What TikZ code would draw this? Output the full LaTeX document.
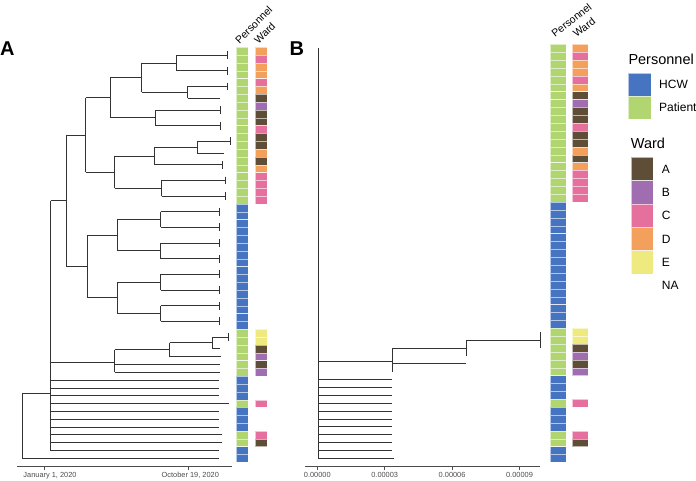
\documentclass[tikz,border=0pt]{standalone}
\usepackage{fontspec}
\setmainfont{Liberation Sans}
\usepackage{xcolor}
\usepackage{tikz}
\usetikzlibrary{calc, positioning}

\definecolor{hcwblue}{HTML}{4674C1}
\definecolor{patgreen}{HTML}{B1D571}
\definecolor{wardA}{HTML}{5F4E37}
\definecolor{wardB}{HTML}{A06DB1}
\definecolor{wardC}{HTML}{E5709E}
\definecolor{wardD}{HTML}{F4A05D}
\definecolor{wardE}{HTML}{EFEA7F}

\tikzset{
    branch/.style={line width=0.8pt, black!80},
    cell/.style={draw=white, draw opacity=0.6, line width=0.3pt},
    axisline/.style={line width=0.6pt, black!70},
    ticklbl/.style={font=\fontsize{7.4}{8}\selectfont, text=black!70, anchor=north, inner sep=0pt},
    colhdr/.style={font=\fontsize{10.5}{12}\selectfont, anchor=base west, inner sep=0pt},
    legtitle/.style={font=\fontsize{14.5}{16}\selectfont, anchor=base west, inner sep=0pt},
    leglbl/.style={font=\fontsize{12}{14}\selectfont, anchor=west, inner sep=0pt},
    panel/.style={font=\fontsize{20}{24}\selectfont\bfseries, anchor=base west, inner sep=0pt}
}

\begin{document}
\begin{tikzpicture}[x=1pt, y=-1pt,
    declare function={ya(\i)=47.3+7.83*(\i+0.5); yb(\i)=44.3+7.887*(\i+0.5);}]
    \useasboundingbox (0,0) rectangle (696,480);

    % Panel labels
    \node[panel] (lblA) at (0,55) {A};
    \node[panel] (lblB) at (289.5,55) {B};

    % Tree A: horizontal branches (x from / x to / row)
    \foreach \xa/\xb/\k in {176.7/227.7/0.5, 176.7/227.7/2.5, 141.7/176.7/1.5,
        187.7/227.7/4.5, 187.7/220/6, 141.7/187.7/5.25, 110.3/141.7/3.375,
        155/220/7.5, 155/220.7/9.5, 110.3/155/8.5, 85.7/110.3/5.9375,
        197.3/230/11.5, 197.3/224.3/13, 154.3/197.3/12.25, 154.3/222.7/14.5,
        114.7/154.3/13.375, 161.7/225.7/16.5, 161.7/225.7/18.5, 114.7/161.7/17.5,
        85.7/114.7/15.4375, 66/85.7/10.6875,
        160.7/219/20.5, 160.7/219/22.5, 160.7/219/24.5, 160.7/219/26.5,
        160.7/219/28.5, 160.7/219/30.5, 160.7/219/32.5, 160.7/219/34.5,
        117.3/160.7/21.5, 117.3/160.7/25.5, 117.3/160.7/29.5, 117.3/160.7/33.5,
        87.3/117.3/23.5, 87.3/117.3/31.5, 66/87.3/27.5, 50.7/66/19.09375,
        212.7/228.7/36.5, 212.7/220/38, 169.7/212.7/37.25, 169.7/220.7/39,
        114.7/169.7/38.125, 114.7/220/40, 114.7/220/41, 50.7/114.7/39.7083,
        50.7/219/42, 50.7/219/43, 50.7/219/44, 50.7/228.7/45, 50.7/219/46,
        50.7/219/47, 50.7/219/48, 50.7/221.7/49, 50.7/221.7/50, 50.7/219/51,
        22/219/52, 22/50.7/43.65} {
        \draw[branch] (\xa,{ya(\k)}) -- (\xb,{ya(\k)});
    }
    % Tree A: vertical lines (x / row from / row to)
    \foreach \x/\ka/\kb in {227.7/0/1, 227.7/2/3, 227.7/4/5, 220/7/8, 220.7/9/10,
        230/11/12, 222.7/14/15, 225.7/16/17, 225.7/18/19,
        219/20/21, 219/22/23, 219/24/25, 219/26/27, 219/28/29, 219/30/31,
        219/32/33, 219/34/35, 228.7/36/37,
        176.7/0.5/2.5, 187.7/4.5/6, 141.7/1.5/5.25, 155/7.5/9.5, 110.3/3.375/8.5,
        197.3/11.5/13, 154.3/12.25/14.5, 161.7/16.5/18.5, 114.7/13.375/17.5,
        85.7/5.9375/15.4375, 160.7/20.5/22.5, 160.7/24.5/26.5, 117.3/21.5/25.5,
        160.7/28.5/30.5, 160.7/32.5/34.5, 117.3/29.5/33.5, 87.3/23.5/31.5,
        66/10.6875/27.5, 212.7/36.5/38, 169.7/37.25/39, 114.7/38.125/41,
        50.7/19.09375/51, 22/43.65/52} {
        \draw[branch] (\x,{ya(\ka)}) -- (\x,{ya(\kb)});
    }

    % Tree B
    \draw[branch] (318,{yb(0)}) -- (318,{yb(52)});
    \foreach \xa/\xb/\k in {318/392/39.6667, 392/466/38, 466/540.3/37, 392/466/40,
        318/392/42, 318/392/43, 318/392/44, 318/392/45, 318/392/46, 318/392/47,
        318/392/48, 318/392/49, 318/392/50, 318/392/51, 318/394.3/52} {
        \draw[branch] (\xa,{yb(\k)}) -- (\xb,{yb(\k)});
    }
    \foreach \x/\ka/\kb in {392/38/41, 466/37/39, 540.3/36/38} {
        \draw[branch] (\x,{yb(\ka)}) -- (\x,{yb(\kb)});
    }

    % Personnel columns
    \foreach \a/\b/\c in {0/19/patgreen, 20/35/hcwblue, 36/41/patgreen, 42/44/hcwblue,
        45/45/patgreen, 46/48/hcwblue, 49/50/patgreen, 51/52/hcwblue} {
        \foreach \k in {\a,...,\b} {
            \filldraw[cell, fill=\c] (235.7,{47.3+7.83*\k}) rectangle (247.7,{47.3+7.83*(\k+1)});
            \filldraw[cell, fill=\c] (550,{44.3+7.887*\k}) rectangle (565.7,{44.3+7.887*(\k+1)});
        }
    }
    % Ward columns
    \foreach \k/\c in {0/wardD, 1/wardC, 2/wardD, 3/wardD, 4/wardC, 5/wardD, 6/wardA,
        7/wardB, 8/wardA, 9/wardA, 10/wardC, 11/wardA, 12/wardA, 13/wardD, 14/wardA,
        15/wardD, 16/wardC, 17/wardC, 18/wardC, 19/wardC, 36/wardE, 37/wardE,
        38/wardA, 39/wardB, 40/wardA, 41/wardB, 45/wardC, 49/wardC, 50/wardA} {
        \filldraw[cell, fill=\c] (255,{47.3+7.83*\k}) rectangle (267.3,{47.3+7.83*(\k+1)});
        \filldraw[cell, fill=\c] (572.3,{44.3+7.887*\k}) rectangle (588.3,{44.3+7.887*(\k+1)});
    }

    % Column headers
    \node[colhdr, rotate=45] (hdrPersA) at (239.5,44.5) {Personnel};
    \node[colhdr, rotate=45] (hdrWardA) at (258.5,44.5) {Ward};
    \node[colhdr, rotate=38] (hdrPersB) at (555,38) {Personnel};
    \node[colhdr, rotate=38] (hdrWardB) at (576.5,38) {Ward};

    % Axis A
    \draw[axisline] (17.3,466.7) -- (231.7,466.7);
    \draw[axisline] (44.3,466.7) -- (44.3,469.5);
    \draw[axisline] (188.3,466.7) -- (188.3,469.5);
    \node[ticklbl] (tA1) at (50,472) {January 1, 2020};
    \node[ticklbl] (tA2) at (190.3,472) {October 19, 2020};

    % Axis B
    \draw[axisline] (305,466.7) -- (540,466.7);
    \foreach \x/\t [count=\n] in {317.3/0.00000, 384.7/0.00003, 452.1/0.00006, 519.5/0.00009} {
        \draw[axisline] (\x,466.7) -- (\x,469.5);
        \node[ticklbl] (tB\n) at (\x,472) {\t};
    }

    % Legend: Personnel
    \node[legtitle] (legPers) at (628.3,64) {Personnel};
    \filldraw[cell, fill=hcwblue] (628.3,73.3) rectangle (651,96);
    \filldraw[cell, fill=patgreen] (628.3,96) rectangle (651,119.3);
    \node[leglbl] (legHCW) at (659,84.7) {HCW};
    \node[leglbl] (legPat) at (659,107.7) {Patient};

    % Legend: Ward
    \node[legtitle] (legWard) at (630.7,148.3) {Ward};
    \foreach \c/\t [count=\n from 0] in {wardA/A, wardB/B, wardC/C, wardD/D, wardE/E} {
        \filldraw[cell, fill=\c] (630.7,{157.3+23.33*\n}) rectangle (653.3,{157.3+23.33*(\n+1)});
        \node[leglbl] (leg\t) at (661.7,{168.9+23.33*\n}) {\t};
    }
    \node[leglbl] (legNA) at (661.7,285.6) {NA};
\end{tikzpicture}
\end{document}
